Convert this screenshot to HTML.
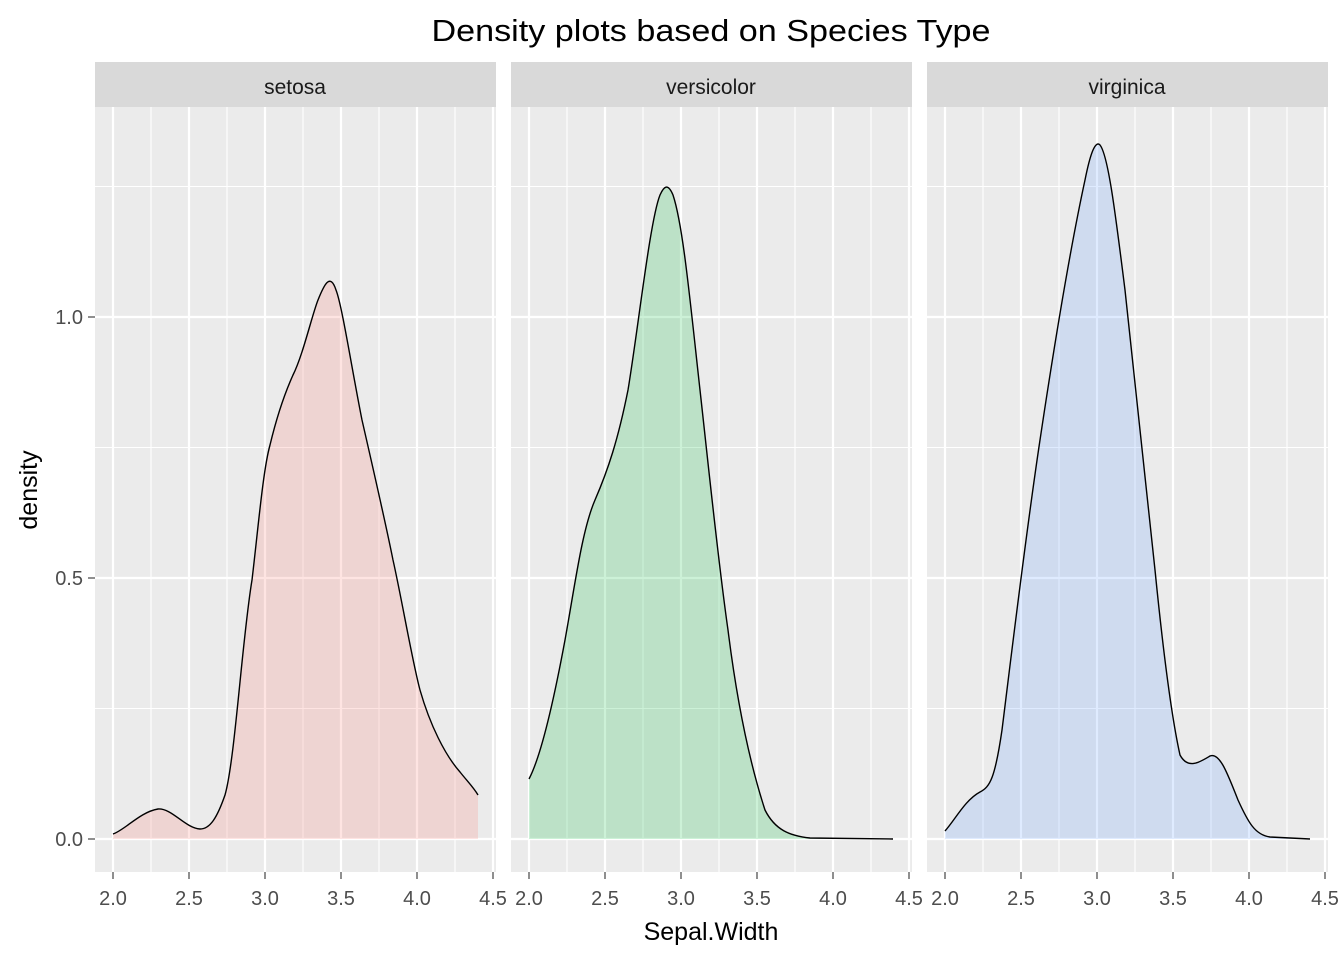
<!DOCTYPE html>
<html><head><meta charset="utf-8"><style>body{margin:0;background:#fff}svg{display:block;font-family:"Liberation Sans",Arial,sans-serif}</style></head>
<body>
<svg width="1344" height="960" viewBox="0 0 1344 960" xmlns="http://www.w3.org/2000/svg">
<rect width="1344" height="960" fill="#fff"/>
<text x="711" y="41" font-size="31" text-anchor="middle" fill="#000" textLength="559" lengthAdjust="spacingAndGlyphs">Density plots based on Species Type</text>
<defs>
<g id="grid">
<rect x="0" y="107" width="401" height="765" fill="#EBEBEB"/>
<g stroke="#fff" stroke-width="1.1">
<line x1="0" x2="401" y1="708.5" y2="708.5"/><line x1="0" x2="401" y1="447.5" y2="447.5"/><line x1="0" x2="401" y1="186.5" y2="186.5"/>
<line x1="56" x2="56" y1="107" y2="872"/><line x1="132" x2="132" y1="107" y2="872"/><line x1="208" x2="208" y1="107" y2="872"/><line x1="284" x2="284" y1="107" y2="872"/><line x1="360" x2="360" y1="107" y2="872"/>
</g>
<g stroke="#fff" stroke-width="2.2">
<line x1="0" x2="401" y1="839" y2="839"/><line x1="0" x2="401" y1="578" y2="578"/><line x1="0" x2="401" y1="317" y2="317"/>
<line x1="18" x2="18" y1="107" y2="872"/><line x1="94" x2="94" y1="107" y2="872"/><line x1="170" x2="170" y1="107" y2="872"/><line x1="246" x2="246" y1="107" y2="872"/><line x1="322" x2="322" y1="107" y2="872"/><line x1="398" x2="398" y1="107" y2="872"/>
</g>
<rect x="0" y="62" width="401" height="45" fill="#D9D9D9"/>
<g stroke="#333" stroke-width="1.1">
<line x1="18" x2="18" y1="872" y2="879"/><line x1="94" x2="94" y1="872" y2="879"/><line x1="170" x2="170" y1="872" y2="879"/><line x1="246" x2="246" y1="872" y2="879"/><line x1="322" x2="322" y1="872" y2="879"/><line x1="398" x2="398" y1="872" y2="879"/>
</g>
<g font-size="20" fill="#4D4D4D" text-anchor="middle">
<text x="18" y="905">2.0</text><text x="94" y="905">2.5</text><text x="170" y="905">3.0</text><text x="246" y="905">3.5</text><text x="322" y="905">4.0</text><text x="398" y="905">4.5</text>
</g>
</g>
</defs>
<use href="#grid" x="95"/>
<use href="#grid" x="511"/>
<use href="#grid" x="927"/>
<g font-size="21" fill="#1A1A1A" text-anchor="middle">
<text x="295" y="94">setosa</text><text x="711" y="94">versicolor</text><text x="1127" y="94">virginica</text>
</g>
<g stroke="#333" stroke-width="1.1"><line x1="88" x2="95" y1="839" y2="839"/><line x1="88" x2="95" y1="578" y2="578"/><line x1="88" x2="95" y1="317" y2="317"/></g>
<g font-size="20" fill="#4D4D4D" text-anchor="end"><text x="83" y="846">0.0</text><text x="83" y="585">0.5</text><text x="83" y="324">1.0</text></g>
<text transform="translate(37,490) rotate(-90)" font-size="25" text-anchor="middle" fill="#000">density</text>
<text x="711" y="940" font-size="25" text-anchor="middle" fill="#000">Sepal.Width</text>
<path d="M113,839 L113,834 C125,830 140,812 158,809 C172,808 185,828 200,829 C210,829 217,818 225,795 C235,760 242,640 252,580 C258,530 263,470 270,445 C276,420 284,395 293,375 C303,355 312,315 318,300 C324,285 330,272 336,290 C342,305 352,370 362,420 C370,455 385,520 393,560 C402,600 412,660 420,690 C430,725 445,755 460,772 C468,782 474,788 478,795 L478,839 Z" fill="#F8766D" fill-opacity="0.2" stroke="none"/>
<path d="M113,834 C125,830 140,812 158,809 C172,808 185,828 200,829 C210,829 217,818 225,795 C235,760 242,640 252,580 C258,530 263,470 270,445 C276,420 284,395 293,375 C303,355 312,315 318,300 C324,285 330,272 336,290 C342,305 352,370 362,420 C370,455 385,520 393,560 C402,600 412,660 420,690 C430,725 445,755 460,772 C468,782 474,788 478,795" fill="none" stroke="#000" stroke-width="1.4"/>
<path d="M529,839 L529,779 C540,758 552,710 565,640 C575,585 582,530 595,500 C608,470 618,440 628,390 C638,330 650,220 660,195 C664,186 668,183 673,195 C683,225 690,300 700,390 C710,480 718,560 728,630 C738,710 752,770 765,810 C775,830 790,836 810,838 L893,839 Z" fill="#00BA38" fill-opacity="0.2" stroke="none"/>
<path d="M529,779 C540,758 552,710 565,640 C575,585 582,530 595,500 C608,470 618,440 628,390 C638,330 650,220 660,195 C664,186 668,183 673,195 C683,225 690,300 700,390 C710,480 718,560 728,630 C738,710 752,770 765,810 C775,830 790,836 810,838 L893,839" fill="none" stroke="#000" stroke-width="1.4"/>
<path d="M945,839 L945,831 C955,820 965,800 980,792 C990,787 995,778 1002,730 C1012,650 1025,540 1040,440 C1055,340 1072,240 1085,180 C1090,155 1095,140 1100,145 C1108,155 1115,210 1125,290 C1135,380 1145,470 1155,570 C1162,640 1170,710 1180,755 C1188,770 1200,762 1210,756 C1220,752 1228,775 1238,800 C1248,822 1255,835 1270,837 L1310,839 Z" fill="#619CFF" fill-opacity="0.2" stroke="none"/>
<path d="M945,831 C955,820 965,800 980,792 C990,787 995,778 1002,730 C1012,650 1025,540 1040,440 C1055,340 1072,240 1085,180 C1090,155 1095,140 1100,145 C1108,155 1115,210 1125,290 C1135,380 1145,470 1155,570 C1162,640 1170,710 1180,755 C1188,770 1200,762 1210,756 C1220,752 1228,775 1238,800 C1248,822 1255,835 1270,837 L1310,839" fill="none" stroke="#000" stroke-width="1.4"/>
</svg>
</body></html>
